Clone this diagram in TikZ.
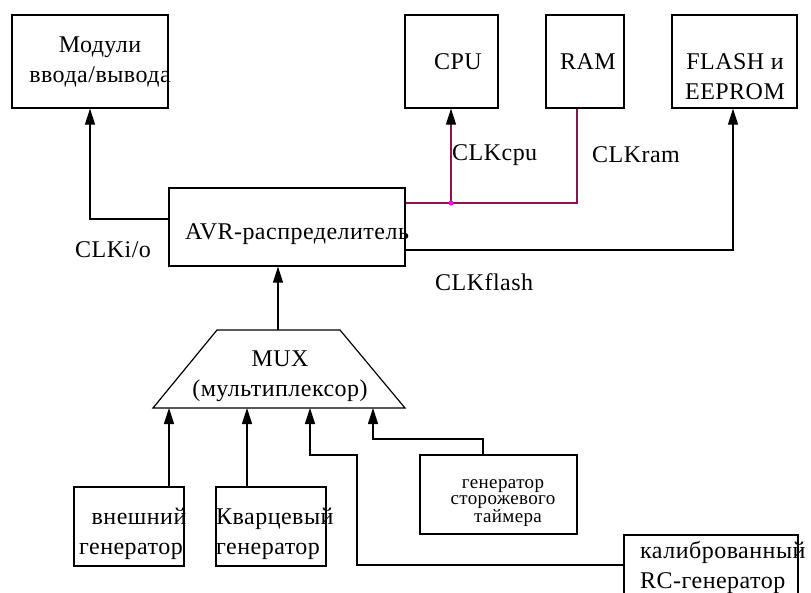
\documentclass[tikz,border=0pt]{standalone}
\usepackage{fontspec}
\setmainfont[LetterSpace=2]{Liberation Serif}
\usetikzlibrary{arrows.meta,calc}
\definecolor{maroonline}{RGB}{140,20,80}
\definecolor{dotmag}{RGB}{255,0,255}
\begin{document}
\begin{tikzpicture}[x=1pt,y=-1pt,
  box/.style={draw,line width=1.2pt,minimum width=#1,inner sep=0pt},
  txt/.style={inner sep=0pt,align=center,font=\fontsize{24}{30}\selectfont},
  tip/.style={-{Triangle[width=10pt,length=16pt,color=black]}},
  arr/.style={line width=1.2pt,tip},
  mline/.style={line width=1.2pt,draw=maroonline}]
\useasboundingbox (0,0) rectangle (811,592);
\clip (0,0) rectangle (811,592);
% boxes
\node[box=156pt,minimum height=93pt] (mod) at (90,61.5) {};
\node[box=93pt,minimum height=93pt] (cpu) at (451.5,61.5) {};
\node[box=78pt,minimum height=93pt] (ram) at (585,61.5) {};
\node[box=125pt,minimum height=93pt] (flash) at (734.5,61.5) {};
\node[box=236pt,minimum height=78pt] (avr) at (287,227) {};
\node[box=110pt,minimum height=79pt] (ext) at (129,526.5) {};
\node[box=110pt,minimum height=79pt] (qz) at (271,526.5) {};
\node[box=157pt,minimum height=79pt] (wd) at (498.5,494.5) {};
\node[box=174pt,minimum height=80pt] (rc) at (711,575) {};
% mux trapezoid
\coordinate (mtl) at (217,330);
\coordinate (mtr) at (340,330);
\coordinate (mbr) at (405,408);
\coordinate (mbl) at (153,408);
\draw[line width=1.2pt] (mtl) -- (mtr) -- (mbr) -- (mbl) -- cycle;
\coordinate (mtop) at (278,330);
\coordinate (m1) at (169,408);
\coordinate (m2) at (247,408);
\coordinate (m3) at (310,408);
\coordinate (m4) at (373,408);
% texts
\node[txt] (modt) at (100,62) {Модули\\ввода/вывода};
\node[txt] (cput) at (458,62) {CPU};
\node[txt] (ramt) at (588,62) {RAM};
\node[txt] (flasht) at (735,77) {FLASH и\\EEPROM};
\node[txt] (avrt) at (297,234) {AVR-распределитель};
\node[txt] (muxt) at (280,376) {MUX\\(мультиплексор)};
\node[txt] (extt) at (131,534) {\hspace*{16pt}внешний\\генератор};
\node[txt,align=left,anchor=west] (qzt) at (216,534) {Кварцевый\\генератор};
\node[txt,font=\fontsize{19}{16}\selectfont] (wdt) at (503,503) {генератор\\сторожевого\\\hspace*{10pt}таймера};
\node[txt,align=left,anchor=west] (rct) at (640,567) {калиброванный\\RC-генератор};
% labels
\node[txt,anchor=west] (lio) at (75,250) {CLKi/o};
\node[txt,anchor=west] (lcpu) at (452,155) {CLKcpu};
\node[txt,anchor=west] (lram) at (592,155) {CLKram};
\node[txt,anchor=west] (lfl) at (435,282) {CLKflash};
% connectors
\draw[arr] ([yshift=8pt]avr.west) -| (mod.south);
\draw[arr] ([yshift=-23pt]avr.east) -| ([xshift=-1.5pt]flash.south);
\coordinate (j) at (451,203);
\draw[mline] ([yshift=24pt]avr.east) -- (j) -| ([xshift=-8pt]ram.south);
\draw[mline,tip] (j) -- ([xshift=-0.5pt]cpu.south);
\fill[dotmag] (j) circle (2.5pt);
\draw[arr] (mtop) -- (avr.south -| mtop);
\draw[arr] (ext.north -| m1) -- (m1);
\draw[arr] (qz.north -| m2) -- (m2);
\coordinate (c3a) at (357,455);
\draw[arr] ([yshift=10pt]rc.west) -| (c3a) -| (m3);
\coordinate (c4) at (373,439);
\draw[arr] ([xshift=-15.5pt]wd.north) |- (c4) -- (m4);
\end{tikzpicture}
\end{document}
